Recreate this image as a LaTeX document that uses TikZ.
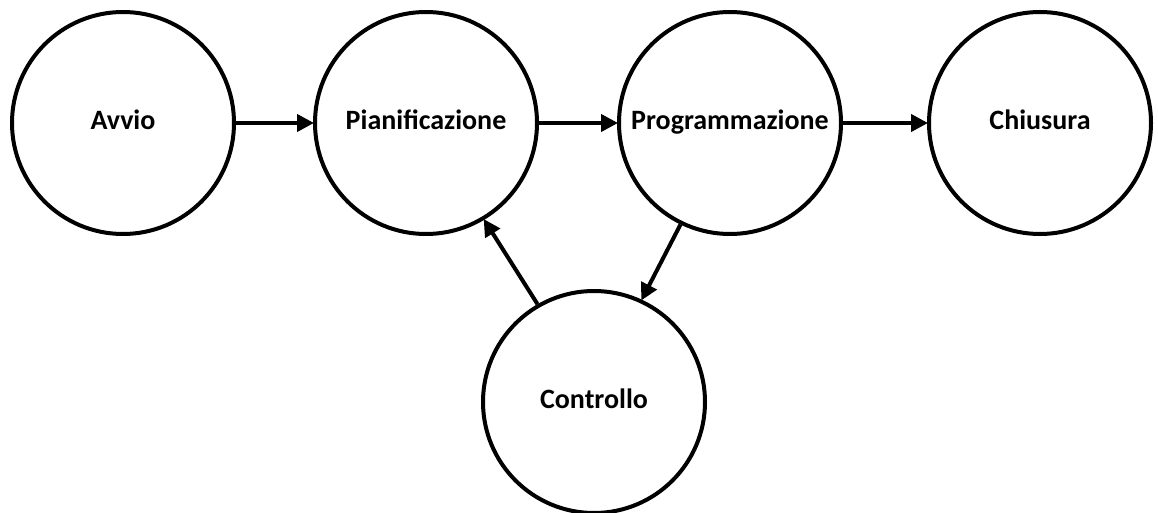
\documentclass[tikz,border=0pt]{standalone}
\usepackage{fontspec}
\setmainfont{Carlito}
\usetikzlibrary{arrows.meta}
\tikzset{
  phase/.style={circle, draw=black, line width=4pt, minimum size=222pt, inner sep=0pt, fill=white, text height=1.25em, text depth=0pt, font=\fontsize{28}{32}\selectfont\bfseries},
  flow/.style={line width=4pt, -{Triangle[length=17pt,width=17pt]}, shorten >=-1pt}
}
\begin{document}
\begin{tikzpicture}[x=1pt,y=-1pt]
\useasboundingbox (0,0) rectangle (1158,513);
\node[phase] (avvio) at (123,123) {Avvio};
\node[phase] (pian) at (426,123) {Pianificazione};
\node[phase] (prog) at (730,123) {Programmazione};
\node[phase] (chius) at (1040,123) {Chiusura};
\node[phase] (contr) at (594,402) {Controllo};
\draw[flow] (avvio.east) -- (pian.west);
\draw[flow] (pian.east) -- (prog.west);
\draw[flow] (prog.east) -- (chius.west);
\draw[flow] (prog.-116) -- (contr.65);
\draw[flow] (contr.120) -- (pian.-59);
\end{tikzpicture}
\end{document}
